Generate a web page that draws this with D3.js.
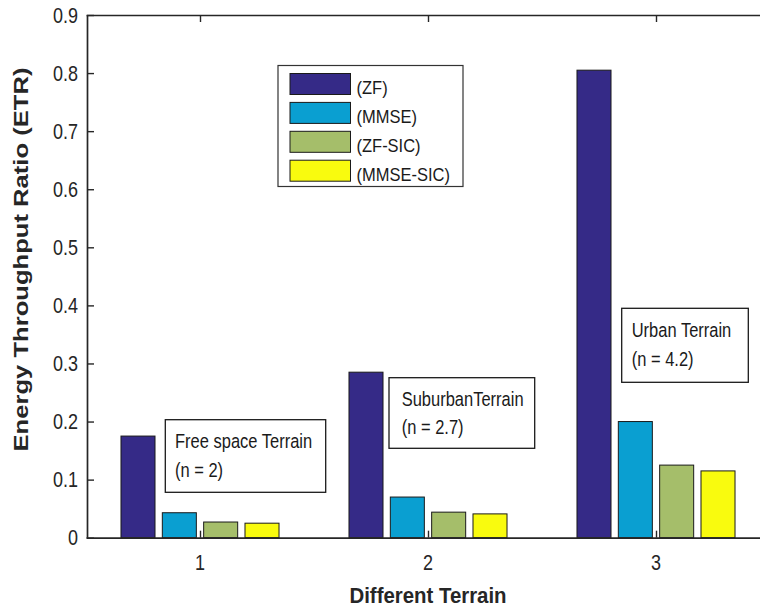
<!DOCTYPE html>
<html>
<head>
<meta charset="utf-8">
<script src="https://cdn.jsdelivr.net/npm/d3@7"></script>
<style>
  html, body { margin: 0; padding: 0; background: #fff; }
  svg { display: block; font-family: "Liberation Sans", Arial, sans-serif; }
</style>
</head>
<body>
<svg id="chart" width="760" height="607"></svg>
<script>
// ---- data ----
const categories = [1, 2, 3];
const seriesNames = ["(ZF)", "(MMSE)", "(ZF-SIC)", "(MMSE-SIC)"];
const zf      = [0.175, 0.285, 0.805];
const mmse    = [0.043, 0.070, 0.200];
const zfSic   = [0.027, 0.044, 0.125];
const mmseSic = [0.025, 0.041, 0.115];
const seriesColors = ["#352A87", "#0A9FD1", "#A5BE6A", "#F9FB0E"];
const yTicks = [0, 0.1, 0.2, 0.3, 0.4, 0.5, 0.6, 0.7, 0.8, 0.9];
const terrainLines = [
  ["Free space Terrain", "(n = 2)"],
  ["SuburbanTerrain", "(n = 2.7)"],
  ["Urban Terrain", "(n = 4.2)"]
];
const xLabel = "Different Terrain";
const yLabel = "Energy Throughput Ratio (ETR)";

const seriesValues = [zf, mmse, zfSic, mmseSic];

// ---- layout ----
const svg = d3.select("#chart");
const axisColor = "#262626";
const textColor = "#1a1a1a";
const x = d3.scaleLinear().domain([0.5, 3.5]).range([86, 770]);
const y = d3.scaleLinear().domain([0, 0.9]).range([537.7, 15]);

const unit = x(2) - x(1);
const inner = d3.scaleBand().domain(d3.range(seriesNames.length))
  .range([-unit * 0.3625, unit * 0.3625]).paddingInner(0.177).paddingOuter(0.088);

// text helper: places text at (tx,ty) with a vertical stretch
function label(parent, tx, ty, str, size, sy, opts = {}) {
  return parent.append("text")
    .attr("transform", `translate(${tx},${ty}) scale(1,${sy})`)
    .attr("font-size", size)
    .attr("font-weight", opts.bold ? "bold" : null)
    .attr("text-anchor", opts.anchor || "start")
    .attr("fill", opts.fill || textColor)
    .text(str);
}

svg.append("rect").attr("width", 760).attr("height", 607).attr("fill", "#fff");

// bars
seriesValues.forEach((vals, si) => {
  svg.append("g").selectAll("rect").data(categories).join("rect")
    .attr("x", (c) => x(c) + inner(si))
    .attr("width", inner.bandwidth())
    .attr("y", (c, i) => y(vals[i]))
    .attr("height", (c, i) => y(0) - y(vals[i]))
    .attr("fill", seriesColors[si])
    .attr("stroke", "#1a1a1a")
    .attr("stroke-width", 1);
});

// axes
const left = x.range()[0] + 1;
const gx = svg.append("g").attr("transform", `translate(0,${y(0)})`)
  .call(d3.axisBottom(x).tickValues(categories).tickSize(-7).tickSizeOuter(0).tickFormat(""));
const gt = svg.append("g").attr("transform", `translate(0,${y(0.9)})`)
  .call(d3.axisTop(x).tickValues(categories).tickSize(-7).tickSizeOuter(0).tickFormat(""));
const gy = svg.append("g").attr("transform", `translate(${left},0)`)
  .call(d3.axisLeft(y).tickValues(yTicks).tickSize(-7).tickSizeOuter(0).tickFormat(""));
[gx, gt, gy].forEach((g) => {
  g.select(".domain").attr("stroke", axisColor).attr("stroke-width", 1.7);
  g.selectAll(".tick line").attr("stroke", axisColor).attr("stroke-width", 1.4);
});

// tick labels
const fmtY = (d) => d === 0 ? "0" : d3.format(".1f")(d);
yTicks.forEach((t) => {
  label(svg, left - 9, y(t) + 7.5, fmtY(t), 18, 1.2, { anchor: "end", fill: axisColor });
});
categories.forEach((c) => {
  label(svg, x(c), 570, String(c), 18, 1.2, { anchor: "middle", fill: axisColor });
});

// axis titles
label(svg, x(2), 603, xLabel, 20.4, 1.08, { anchor: "middle", bold: true, fill: axisColor });

svg.append("text")
  .attr("transform", `translate(28,259.5) rotate(-90)`)
  .attr("text-anchor", "middle")
  .attr("font-size", 19.5).attr("font-weight", "bold").attr("fill", axisColor)
  .attr("textLength", 384).attr("lengthAdjust", "spacingAndGlyphs")
  .text(yLabel);

// legend
const lg = svg.append("g").attr("transform", "translate(278,65.5)");
lg.append("rect").attr("width", 185).attr("height", 121)
  .attr("fill", "#fff").attr("stroke", "#333").attr("stroke-width", 1.2);
seriesNames.forEach((name, i) => {
  const row = lg.append("g").attr("transform", `translate(0,${8 + i * 28.9})`);
  row.append("rect").attr("x", 12).attr("width", 60.5).attr("height", 21)
    .attr("fill", seriesColors[i]).attr("stroke", "#1a1a1a").attr("stroke-width", 1);
  label(row, 78.5, 20.5, name, 16.5, 1.1);
});

// terrain annotation boxes
const boxes = [
  { x0: 165.3, y0: 419.7, w: 160.4, h: 72.6, tx: 175, ty: 448.3, gap: 29 },
  { x0: 389, y0: 377.7, w: 145.7, h: 70.6, tx: 401.7, ty: 406, gap: 28.3 },
  { x0: 621.7, y0: 308.3, w: 126.6, h: 74, tx: 631.7, ty: 336.7, gap: 29 }
];
terrainLines.forEach((lines, i) => {
  const b = boxes[i];
  const g = svg.append("g");
  g.append("rect").attr("x", b.x0).attr("y", b.y0).attr("width", b.w).attr("height", b.h)
    .attr("fill", "#fff").attr("stroke", "#1a1a1a").attr("stroke-width", 1.3);
  lines.forEach((t, j) => {
    label(g, b.tx, b.ty + j * b.gap, t, 16.5, 1.18);
  });
});
</script>
</body>
</html>
